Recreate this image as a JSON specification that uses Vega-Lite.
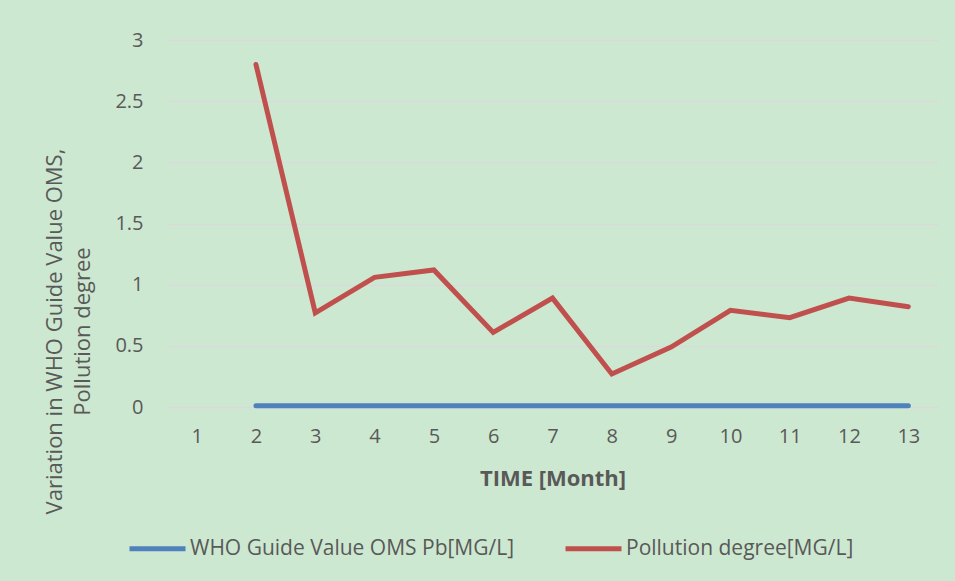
{
  "$schema": "https://vega.github.io/schema/vega-lite/v6.json",
  "autosize": "none",
  "width": 771,
  "height": 367,
  "padding": {"left": 167, "top": 40, "right": 17, "bottom": 174},
  "background": "#cde8d0",
  "config": {
    "view": {"stroke": null},
    "font": "Open Sans"
  },
  "data": {
    "values": [
      {"month": 2, "series": "WHO Guide Value OMS Pb[MG/L]", "value": 0.01},
      {"month": 3, "series": "WHO Guide Value OMS Pb[MG/L]", "value": 0.01},
      {"month": 4, "series": "WHO Guide Value OMS Pb[MG/L]", "value": 0.01},
      {"month": 5, "series": "WHO Guide Value OMS Pb[MG/L]", "value": 0.01},
      {"month": 6, "series": "WHO Guide Value OMS Pb[MG/L]", "value": 0.01},
      {"month": 7, "series": "WHO Guide Value OMS Pb[MG/L]", "value": 0.01},
      {"month": 8, "series": "WHO Guide Value OMS Pb[MG/L]", "value": 0.01},
      {"month": 9, "series": "WHO Guide Value OMS Pb[MG/L]", "value": 0.01},
      {"month": 10, "series": "WHO Guide Value OMS Pb[MG/L]", "value": 0.01},
      {"month": 11, "series": "WHO Guide Value OMS Pb[MG/L]", "value": 0.01},
      {"month": 12, "series": "WHO Guide Value OMS Pb[MG/L]", "value": 0.01},
      {"month": 13, "series": "WHO Guide Value OMS Pb[MG/L]", "value": 0.01},
      {"month": 2, "series": "Pollution degree[MG/L]", "value": 2.8},
      {"month": 3, "series": "Pollution degree[MG/L]", "value": 0.77},
      {"month": 4, "series": "Pollution degree[MG/L]", "value": 1.06},
      {"month": 5, "series": "Pollution degree[MG/L]", "value": 1.12},
      {"month": 6, "series": "Pollution degree[MG/L]", "value": 0.61},
      {"month": 7, "series": "Pollution degree[MG/L]", "value": 0.89},
      {"month": 8, "series": "Pollution degree[MG/L]", "value": 0.27},
      {"month": 9, "series": "Pollution degree[MG/L]", "value": 0.49},
      {"month": 10, "series": "Pollution degree[MG/L]", "value": 0.79},
      {"month": 11, "series": "Pollution degree[MG/L]", "value": 0.73},
      {"month": 12, "series": "Pollution degree[MG/L]", "value": 0.89},
      {"month": 13, "series": "Pollution degree[MG/L]", "value": 0.82}
    ]
  },
  "mark": {"type": "line", "strokeWidth": 5, "strokeCap": "round"},
  "encoding": {
    "x": {
      "field": "month",
      "type": "ordinal",
      "scale": {"domain": [1,2,3,4,5,6,7,8,9,10,11,12,13], "padding": 0.5},
      "axis": {
        "title": "TIME [Month]",
        "titleFont": "Open Sans",
        "titleFontSize": 22,
        "titleFontWeight": "bold",
        "titleColor": "#595959",
        "titlePadding": 22,
        "labelAngle": 0,
        "labelFontSize": 20,
        "labelColor": "#595959",
        "labelPadding": 19,
        "domain": false,
        "ticks": false,
        "grid": false
      }
    },
    "y": {
      "field": "value",
      "type": "quantitative",
      "scale": {"domain": [0, 3], "nice": false},
      "axis": {
        "values": [0, 0.5, 1, 1.5, 2, 2.5, 3],
        "format": "~g",
        "title": ["Variation in WHO Guide Value OMS,", "Pollution degree"],
        "titleFontSize": 22,
        "titleFontWeight": "normal",
        "titleColor": "#595959",
        "titleX": -106,
        "titleY": 291,
        "titleAlign": "center",
        "titleBaseline": "alphabetic",
        "titleLineHeight": 28,
        "labelFontSize": 20,
        "labelColor": "#595959",
        "labelPadding": 24,
        "domain": false,
        "ticks": false,
        "grid": true,
        "gridColor": "#d9d9d9",
        "gridWidth": 1.5
      }
    },
    "color": {
      "field": "series",
      "type": "nominal",
      "scale": {
        "domain": ["WHO Guide Value OMS Pb[MG/L]", "Pollution degree[MG/L]"],
        "range": ["#4f81bd", "#c0504d"]
      },
      "legend": {
        "title": null,
        "orient": "none",
        "legendX": -40,
        "legendY": 478,
        "direction": "horizontal",
        "columns": 2,
        "columnPadding": 40,
        "symbolType": "stroke",
        "symbolSize": 3136,
        "symbolStrokeWidth": 5,
        "labelFontSize": 21,
        "labelColor": "#595959",
        "labelOffset": 2,
        "labelLimit": 500
      }
    }
  }
}
